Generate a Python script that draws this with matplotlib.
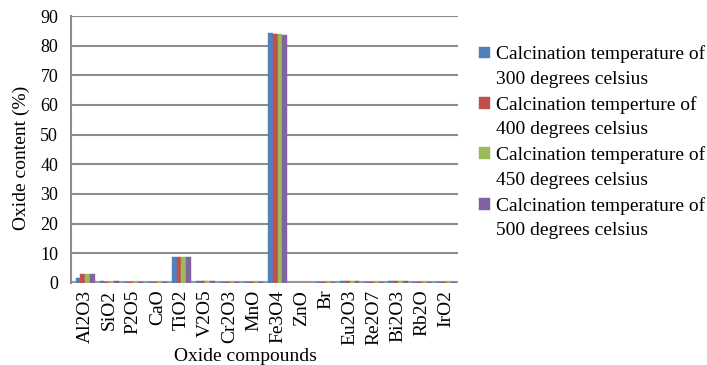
import matplotlib

matplotlib.use("Agg")
import matplotlib.pyplot as plt
import numpy as np
from matplotlib.patches import Rectangle

plt.rcParams["font.family"] = ["Liberation Serif", "DejaVu Serif"]

compounds = ["Al2O3", "SiO2", "P2O5", "CaO", "TiO2", "V2O5", "Cr2O3", "MnO",
             "Fe3O4", "ZnO", "Br", "Eu2O3", "Re2O7", "Bi2O3", "Rb2O", "IrO2"]
t300 = [1.8, 0.8, 0.3, 0.2, 8.7, 0.7, 0.2, 0.3, 84.2, 0.1, 0.2, 0.5, 0.3, 0.6, 0.3, 0.3]
t400 = [3.0, 0.3, 0.3, 0.2, 8.8, 0.7, 0.2, 0.3, 83.9, 0.1, 0.2, 0.5, 0.3, 0.6, 0.3, 0.3]
t450 = [3.0, 0.3, 0.3, 0.2, 8.8, 0.7, 0.2, 0.3, 83.8, 0.1, 0.2, 0.5, 0.3, 0.6, 0.3, 0.3]
t500 = [3.0, 0.6, 0.3, 0.2, 8.7, 0.7, 0.2, 0.3, 83.5, 0.1, 0.2, 0.5, 0.3, 0.6, 0.3, 0.3]
series_first = ["Calcination temperature of", "Calcination temperture of",
                "Calcination temperature of", "Calcination temperature of"]
series_second = ["300 degrees celsius", "400 degrees celsius",
                 "450 degrees celsius", "500 degrees celsius"]
colors = ["#4F81BD", "#C0504D", "#9BBB59", "#8064A2"]

fig = plt.figure(figsize=(7.07, 3.65), dpi=100)
ax = fig.add_axes([0.100, 0.225, 0.548, 0.731])

x = np.arange(len(compounds))
w = 0.2
bars = []
for i, (vals, c) in enumerate(zip([t300, t400, t450, t500], colors)):
    b = ax.bar(x + (i - 1.5) * w, vals, w, color=c, edgecolor=c, linewidth=0.3,
               zorder=3)
    bars.append(b)

ax.set_ylim(0, 90)
ax.set_xlim(-0.6, 15.5)
ax.set_yticks(range(0, 91, 10))
ax.yaxis.grid(True, color="#8c8c8c", linewidth=1.5, zorder=0)
for s in ["top", "right", "bottom"]:
    ax.spines[s].set_visible(False)
ax.spines["left"].set_color("#8c8c8c")
ax.spines["left"].set_linewidth(1.5)
# floor of the 3D chart
ax.axhline(0, color="#9a9a9a", linewidth=3, zorder=2)

ax.set_xticks(x)
ax.set_xticklabels(compounds, rotation=90, fontsize=14)
ax.tick_params(axis="x", length=0, pad=5)
ax.tick_params(axis="y", length=0, labelsize=13, pad=9)

ax.set_xlabel("Oxide compounds", fontsize=14)
ax.xaxis.set_label_coords(0.45, -0.245)
ax.set_ylabel("Oxide content (%)", fontsize=14)
ax.yaxis.set_label_coords(-0.105, 0.47)

# two-line legend entries: coloured square beside the first line only
blank = Rectangle((0, 0), 1, 1, fill=False, edgecolor="none", visible=False)
handles, labels = [], []
for b, l1, l2 in zip(bars, series_first, series_second):
    handles += [b, blank]
    labels += [l1, l2]
ax.legend(handles, labels, loc="upper left", bbox_to_anchor=(1.055, 0.89),
          frameon=False, fontsize=14, handlelength=0.55, handleheight=0.55,
          handletextpad=0.3, labelspacing=0.4, borderaxespad=0, borderpad=0)

fig.savefig("out.png", dpi=100)
